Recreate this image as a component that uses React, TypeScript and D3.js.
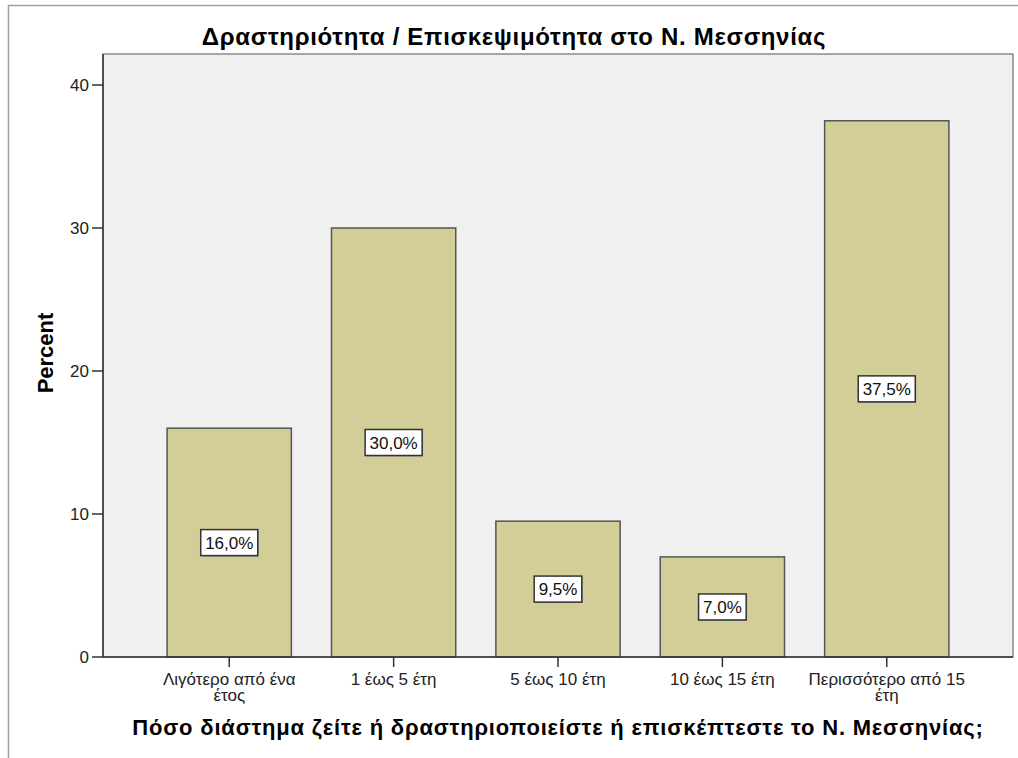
import React from "react";
import * as d3 from "d3";

const categories: string[][] = [
  ["Λιγότερο από ένα", "έτος"],
  ["1 έως 5 έτη"],
  ["5 έως 10 έτη"],
  ["10 έως 15 έτη"],
  ["Περισσότερο από 15", "έτη"],
];
const percentValues: number[] = [16.0, 30.0, 9.5, 7.0, 37.5];
const yTicks: number[] = [0, 10, 20, 30, 40];
const chartTitle = "Δραστηριότητα / Επισκεψιμότητα στο Ν. Μεσσηνίας";
const xTitle = "Πόσο διάστημα ζείτε ή δραστηριοποιείστε ή επισκέπτεστε το Ν. Μεσσηνίας;";
const yTitle = "Percent";

const W = 1018;
const H = 758;
const plot = { left: 103, right: 1013, top: 54, bottom: 657 };
const FONT = "'Liberation Sans', Arial, sans-serif";

export default function App() {
  const keys = categories.map((_, i) => String(i));
  const x = d3
    .scaleBand<string>()
    .domain(keys)
    .range([plot.left, plot.right])
    .paddingInner(0.244)
    .paddingOuter(0.39);
  const y = d3
    .scaleLinear()
    .domain([0, (plot.bottom - plot.top) / 14.3])
    .range([plot.bottom, plot.top]);

  const fmt = (v: number) => v.toFixed(1).replace(".", ",") + "%";

  return (
    <svg
      width={W}
      height={H}
      style={{ position: "absolute", left: 0, top: 0, background: "#fff" }}
      fontFamily={FONT}
    >
      {/* outer frame */}
      <line x1={8} y1={5.5} x2={W} y2={5.5} stroke="#a0a0a0" strokeWidth={1.5} />
      <line x1={8.5} y1={5} x2={8.5} y2={H} stroke="#a0a0a0" strokeWidth={1.5} />

      <text
        x={514}
        y={45}
        textAnchor="middle"
        fontSize={24}
        fontWeight="bold"
        letterSpacing={0.7}
        fill="#000"
      >
        {chartTitle}
      </text>

      {/* plot area */}
      <rect
        x={plot.left}
        y={plot.top}
        width={plot.right - plot.left}
        height={plot.bottom - plot.top}
        fill="#f0f0f0"
        stroke="#555"
        strokeWidth={1}
      />

      {/* bars */}
      {percentValues.map((v, i) => (
        <rect
          key={"b" + i}
          x={x(keys[i])!}
          y={y(v)}
          width={x.bandwidth()}
          height={y(0) - y(v)}
          fill="#d3ce97"
          stroke="#555"
          strokeWidth={1.5}
        />
      ))}

      {/* bar labels */}
      {percentValues.map((v, i) => {
        const cx = x(keys[i])! + x.bandwidth() / 2;
        const cy = (y(v) + y(0)) / 2;
        const label = fmt(v);
        const bw = label.length * 9.4 + 10;
        return (
          <g key={"l" + i}>
            <rect
              x={cx - bw / 2 + 1}
              y={cy - 13 + 1}
              width={bw}
              height={26}
              fill="#999"
            />
            <rect
              x={cx - bw / 2}
              y={cy - 13}
              width={bw}
              height={26}
              fill="#fff"
              stroke="#333"
              strokeWidth={1.5}
            />
            <text
              x={cx}
              y={cy + 6}
              textAnchor="middle"
              fontSize={17}
              fill="#111"
            >
              {label}
            </text>
          </g>
        );
      })}

      {/* axes lines */}
      <line x1={plot.left} y1={plot.top} x2={plot.left} y2={plot.bottom} stroke="#333" strokeWidth={1.5} />
      <line x1={plot.left} y1={plot.bottom} x2={plot.right} y2={plot.bottom} stroke="#333" strokeWidth={1.5} />

      {/* y ticks */}
      {yTicks.map((t) => (
        <g key={"y" + t}>
          <line x1={92} x2={plot.left} y1={y(t)} y2={y(t)} stroke="#333" strokeWidth={1.5} />
          <text x={89} y={y(t) + 6} textAnchor="end" fontSize={17} fill="#222">
            {t}
          </text>
        </g>
      ))}

      {/* x ticks */}
      {categories.map((lines, i) => {
        const cx = x(keys[i])! + x.bandwidth() / 2;
        return (
          <g key={"x" + i}>
            <line x1={cx} x2={cx} y1={plot.bottom} y2={667} stroke="#333" strokeWidth={1.5} />
            {lines.map((ln, j) => (
              <text
                key={j}
                x={cx}
                y={685 + j * 16}
                textAnchor="middle"
                fontSize={17}
                fill="#222"
              >
                {ln}
              </text>
            ))}
          </g>
        );
      })}

      {/* axis titles */}
      <text
        x={558}
        y={735}
        textAnchor="middle"
        fontSize={22}
        fontWeight="bold"
        letterSpacing={0.8}
        fill="#000"
      >
        {xTitle}
      </text>
      <text
        transform={`translate(53,353) rotate(-90)`}
        textAnchor="middle"
        fontSize={22}
        fontWeight="bold"
        fill="#000"
      >
        {yTitle}
      </text>
    </svg>
  );
}
